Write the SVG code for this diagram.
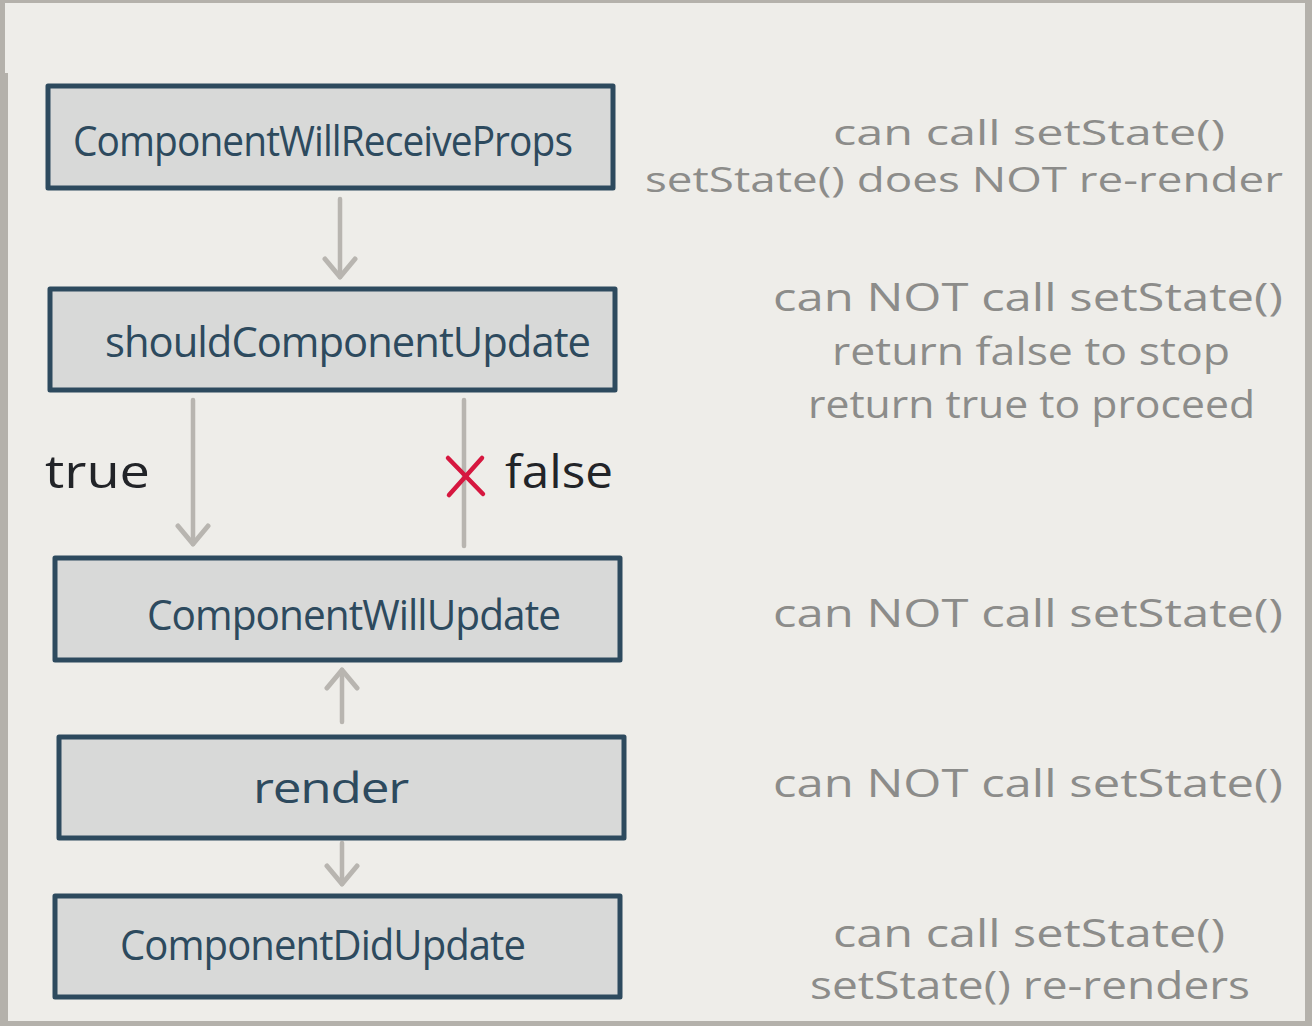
<svg xmlns="http://www.w3.org/2000/svg" width="1312" height="1026" viewBox="0 0 1312 1026">
<defs>
<style>
.box{fill:#d8d9d8;stroke:#2d4a5e;stroke-width:5;stroke-linejoin:round}
.lbl{font-family:"Open Sans","Liberation Sans",sans-serif;font-size:42px;fill:#2d4a5e;letter-spacing:-1px}
.note{font-family:"Open Sans","Liberation Sans",sans-serif;font-size:38px;fill:#8c8c8a}
.tight{font-size:34px}
.edge{stroke:#b8b5b0;stroke-width:4.5;stroke-linecap:round;fill:none}
.cond{font-family:"Open Sans","Liberation Sans",sans-serif;font-size:46px;fill:#222428}
</style>
<marker id="ah" viewBox="0 0 26 36" refX="22" refY="18" markerWidth="26" markerHeight="36" markerUnits="userSpaceOnUse" orient="auto">
<path d="M4 3 L22 18 L4 33" fill="none" stroke="#b8b5b0" stroke-width="5" stroke-linecap="round" stroke-linejoin="round"/>
</marker>
</defs>
<rect x="0" y="0" width="1312" height="1026" fill="#b4b1ab"/>
<path d="M5 3 H1305 V1021 H8 V73 H5 Z" fill="#eeede9"/>

<g id="connectors">
<line class="edge" x1="340" y1="199" x2="340" y2="277" marker-end="url(#ah)"/>
<line class="edge" x1="193" y1="400" x2="193" y2="544" marker-end="url(#ah)"/>
<line class="edge" x1="464" y1="400" x2="464" y2="546"/>
<line class="edge" x1="342" y1="722" x2="342" y2="670" marker-end="url(#ah)"/>
<line class="edge" x1="342" y1="843" x2="342" y2="884" marker-end="url(#ah)"/>
<g id="x-mark" stroke="#d6173f" stroke-width="4.5" stroke-linecap="round">
<line x1="448" y1="458" x2="483" y2="494"/>
<line x1="482" y1="458" x2="449" y2="495"/>
</g>
<text class="cond" x="45" y="488" textLength="105" lengthAdjust="spacingAndGlyphs">true</text>
<text class="cond" x="505" y="488" textLength="108" lengthAdjust="spacingAndGlyphs">false</text>
</g>

<g id="n1">
<rect class="box" x="48" y="86" width="565" height="102"/>
<text class="lbl" x="73" y="156" textLength="499" lengthAdjust="spacingAndGlyphs">ComponentWillReceiveProps</text>
</g>
<g id="n2">
<rect class="box" x="50" y="289" width="565" height="101"/>
<text class="lbl" x="105" y="357" textLength="485" lengthAdjust="spacingAndGlyphs">shouldComponentUpdate</text>
</g>
<g id="n3">
<rect class="box" x="55" y="558" width="565" height="102"/>
<text class="lbl" x="147" y="630" textLength="413" lengthAdjust="spacingAndGlyphs">ComponentWillUpdate</text>
</g>
<g id="n4">
<rect class="box" x="59" y="737" width="565" height="101"/>
<text class="lbl" x="253" y="803" textLength="155" lengthAdjust="spacingAndGlyphs">render</text>
</g>
<g id="n5">
<rect class="box" x="55" y="896" width="565" height="101"/>
<text class="lbl" x="120" y="960" textLength="405" lengthAdjust="spacingAndGlyphs">ComponentDidUpdate</text>
</g>

<g id="notes">
<text class="note tight" x="833" y="145" textLength="392" lengthAdjust="spacingAndGlyphs">can call setState()</text>
<text class="note tight" x="645" y="192" textLength="638" lengthAdjust="spacingAndGlyphs">setState() does NOT re-render</text>
<text class="note" x="773" y="311" textLength="510" lengthAdjust="spacingAndGlyphs">can NOT call setState()</text>
<text class="note" x="832" y="365" textLength="398" lengthAdjust="spacingAndGlyphs">return false to stop</text>
<text class="note" x="808" y="418" textLength="447" lengthAdjust="spacingAndGlyphs">return true to proceed</text>
<text class="note" x="773" y="627" textLength="510" lengthAdjust="spacingAndGlyphs">can NOT call setState()</text>
<text class="note" x="773" y="797" textLength="510" lengthAdjust="spacingAndGlyphs">can NOT call setState()</text>
<text class="note" x="833" y="947" textLength="392" lengthAdjust="spacingAndGlyphs">can call setState()</text>
<text class="note" x="810" y="999" textLength="440" lengthAdjust="spacingAndGlyphs">setState() re-renders</text>
</g>
</svg>
